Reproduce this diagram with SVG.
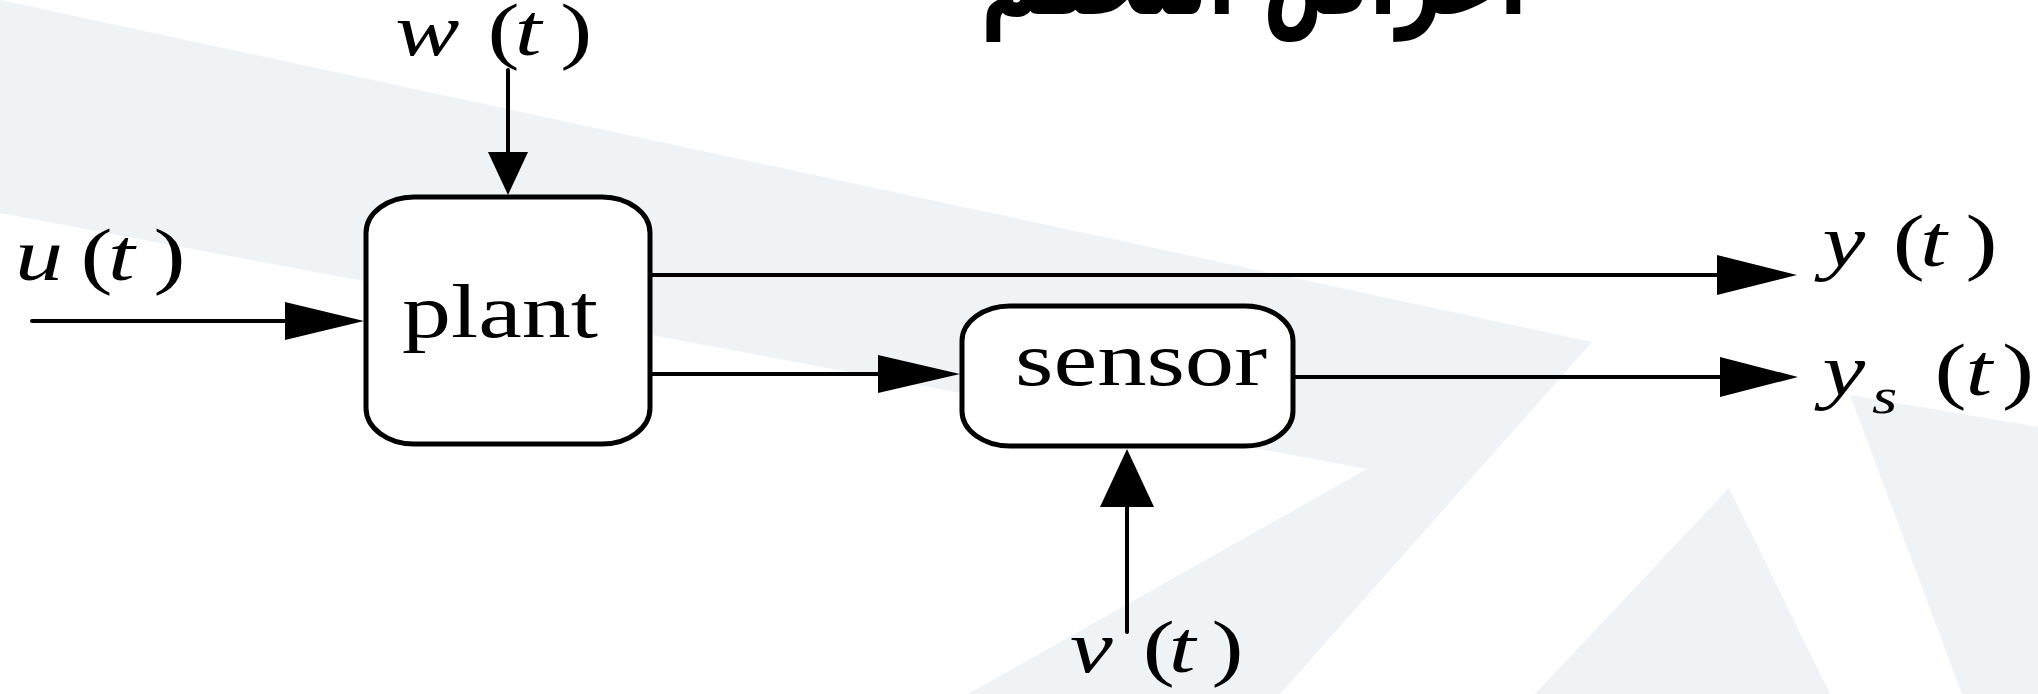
<svg xmlns="http://www.w3.org/2000/svg" width="2038" height="694" viewBox="0 0 2038 694">
<style>
.bg{fill:#eff3f6;stroke:none}
.box{fill:#fff;stroke:#000;stroke-width:5}
.ln{stroke:#000;stroke-width:4;stroke-linecap:round;fill:none}
.hd{fill:#000;stroke:none}
.lbl{font-family:"Liberation Serif","Times New Roman",serif;font-size:74px;fill:#000}
.i{font-style:italic}
.nm{font-family:"Liberation Serif","Times New Roman",serif;font-size:76px;fill:#000}
.ar{font-family:"DejaVu Sans","Noto Sans",sans-serif;font-size:115px;font-weight:bold;fill:#000}
</style>
<g id="background">
<polygon class="bg" points="0,0 1592,342 1280,694 968,694 1367,469 0,213"/>
<polygon class="bg" points="1729,488 1830,694 1535,694"/>
<polygon class="bg" points="1850,395 2038,427 2038,694 1962,694"/>
</g>
<g id="title">
<text class="ar" x="1254" y="14" text-anchor="middle" direction="rtl" textLength="546" lengthAdjust="spacingAndGlyphs">أغراض التحكم</text>
</g>
<g id="connectors">
<line class="ln" x1="32" y1="321" x2="290" y2="321"/>
<polygon class="hd" points="285,302 364,321 285,340"/>
<line class="ln" x1="508" y1="70" x2="508" y2="155"/>
<polygon class="hd" points="488,152 528,152 508,195"/>
<line class="ln" x1="650" y1="275" x2="1720" y2="275"/>
<polygon class="hd" points="1717,255 1797,275 1717,295"/>
<line class="ln" x1="650" y1="374" x2="880" y2="374"/>
<polygon class="hd" points="878,355 960,374 878,393"/>
<line class="ln" x1="1293" y1="377" x2="1722" y2="377"/>
<polygon class="hd" points="1720,357 1798,377 1720,397"/>
<line class="ln" x1="1127" y1="632" x2="1127" y2="505"/>
<polygon class="hd" points="1100,507 1154,507 1127,449"/>
</g>
<g id="plant">
<rect class="box" x="366" y="197" width="284" height="247" rx="48" ry="36"/>
<text class="nm" x="500" y="337" text-anchor="middle" textLength="196" lengthAdjust="spacingAndGlyphs">plant</text>
</g>
<g id="sensor">
<rect class="box" x="962" y="306" width="331" height="140" rx="48" ry="35"/>
<text class="nm" x="1141" y="385" text-anchor="middle" textLength="252" lengthAdjust="spacingAndGlyphs">sensor</text>
</g>
<g id="label-u">
<text class="lbl" transform="scale(1.3,1)" y="280"><tspan class="i" x="11.5">u</tspan><tspan x="62">(</tspan><tspan class="i" x="83">t</tspan><tspan x="118">)</tspan></text>
</g>
<g id="label-w">
<text class="lbl" transform="scale(1.3,1)" y="55"><tspan class="i" x="304">w</tspan><tspan x="375">(</tspan><tspan class="i" x="396">t</tspan><tspan x="431">)</tspan></text>
</g>
<g id="label-v">
<text class="lbl" transform="scale(1.3,1)" y="672"><tspan class="i" x="823">v</tspan><tspan x="879">(</tspan><tspan class="i" x="899">t</tspan><tspan x="932">)</tspan></text>
</g>
<g id="label-y">
<text class="lbl" transform="scale(1.3,1)" y="266"><tspan class="i" x="1402">y</tspan><tspan x="1456">(</tspan><tspan class="i" x="1477">t</tspan><tspan x="1512">)</tspan></text>
</g>
<g id="label-ys">
<text class="lbl" transform="scale(1.3,1)" y="395"><tspan class="i" x="1402">y</tspan><tspan class="i" x="1440" y="413" font-size="50">s</tspan><tspan x="1488" y="395">(</tspan><tspan class="i" x="1512">t</tspan><tspan x="1540">)</tspan></text>
</g>
</svg>
